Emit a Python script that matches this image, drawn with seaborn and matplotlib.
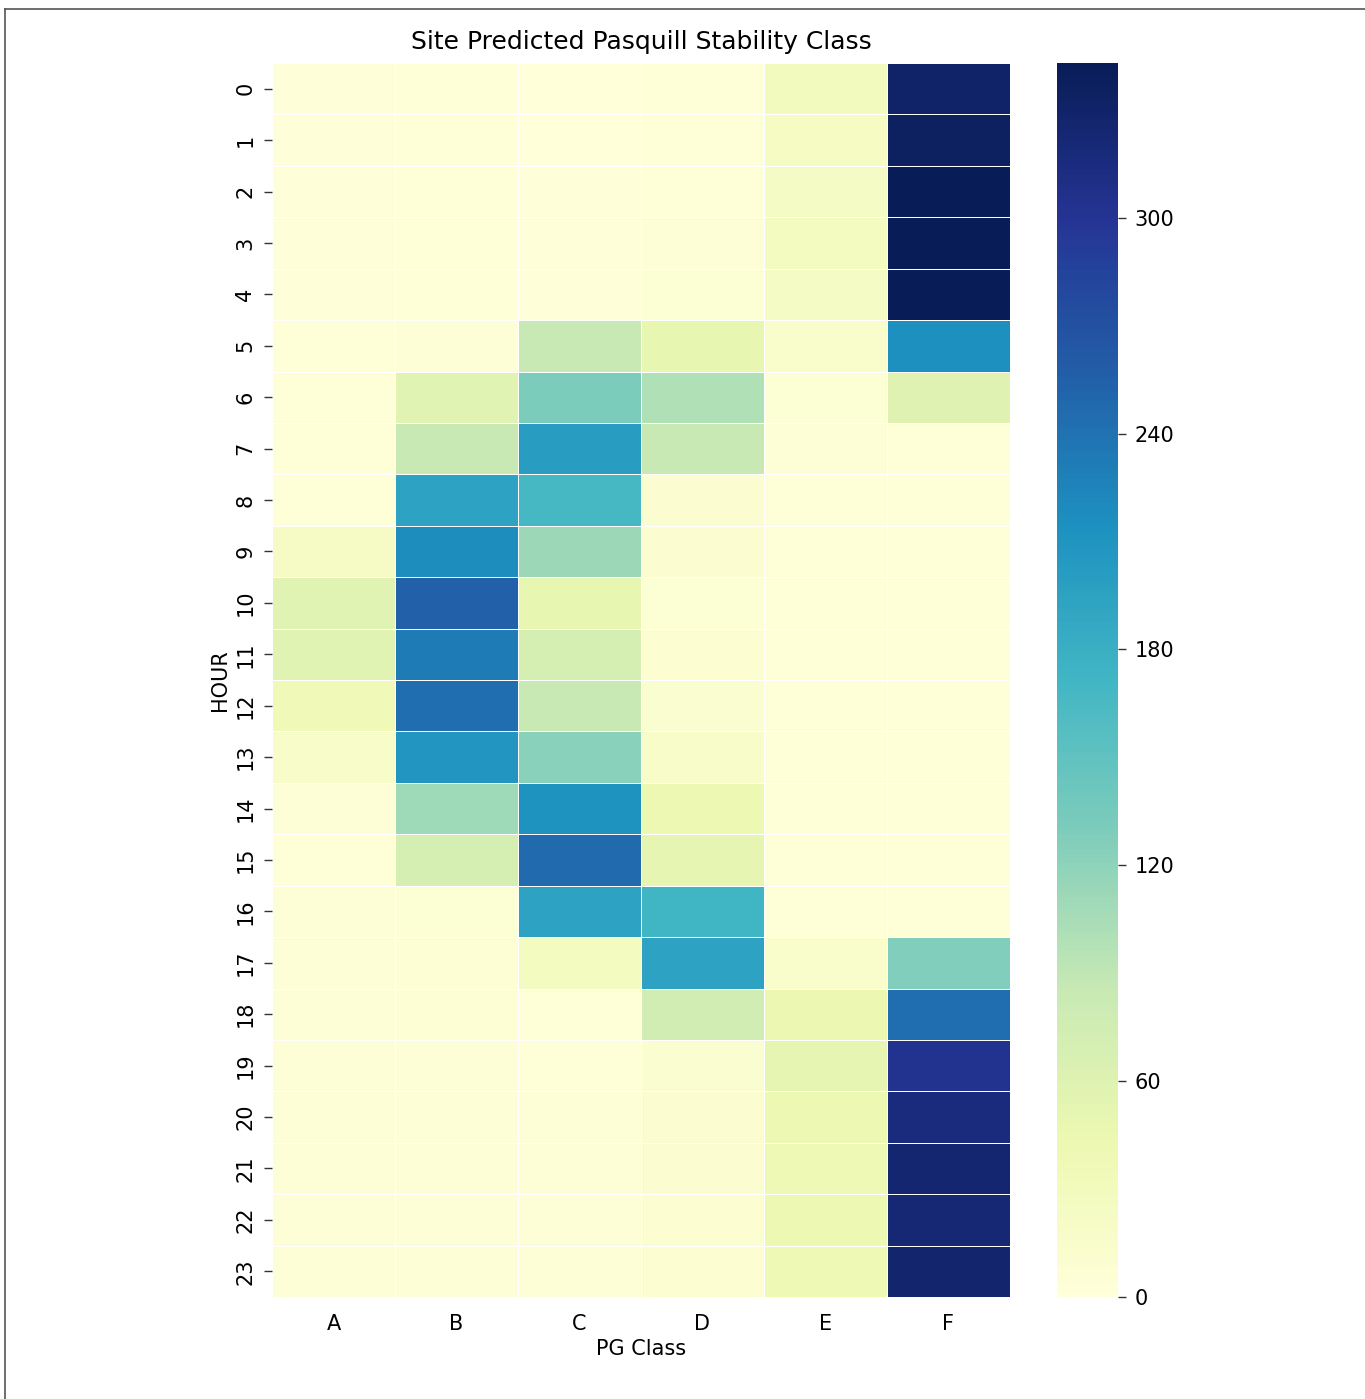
# ==== IMPORT LIBRARIES ====
import pandas as pd
import matplotlib
matplotlib.use("Agg")
import matplotlib.pyplot as plt
import seaborn as sns

# ==== DATA (counts per hour and PG class) ====
hours = list(range(24))
pg_classes = ["A", "B", "C", "D", "E", "F"]

class_a = [2, 2, 2, 2, 2, 3, 3, 3, 4, 22, 58, 58, 35, 18, 5, 4, 5, 5, 5, 5, 5, 5, 5, 5]
class_b = [3, 3, 3, 3, 3, 5, 57, 85, 195, 218, 255, 232, 243, 208, 110, 70, 7, 6, 6, 5, 5, 5, 5, 5]
class_c = [1, 1, 2, 2, 2, 85, 130, 200, 168, 112, 50, 70, 85, 122, 212, 247, 195, 28, 4, 4, 5, 5, 5, 5]
class_d = [3, 3, 4, 5, 7, 50, 100, 85, 10, 10, 8, 9, 12, 18, 42, 52, 172, 195, 75, 12, 10, 10, 9, 9]
class_e = [30, 25, 24, 26, 24, 15, 8, 5, 4, 3, 3, 3, 3, 3, 3, 3, 4, 15, 45, 52, 42, 38, 42, 38]
class_f = [330, 335, 343, 342, 343, 215, 60, 4, 3, 3, 3, 3, 3, 3, 3, 3, 4, 128, 243, 303, 315, 325, 322, 328]

df = pd.DataFrame(
    dict(zip(pg_classes, [class_a, class_b, class_c, class_d, class_e, class_f])),
    index=hours,
)
df.index.name = "HOUR"
df.columns.name = "PG Class"

# ==== HEATMAP ====
fig = plt.figure(figsize=(13.65, 13.99), dpi=100)
ax = fig.add_axes([272 / 1365, 1 - 1297 / 1399, 738 / 1365, 1234 / 1399])
cax = fig.add_axes([1057 / 1365, 1 - 1297 / 1399, 61 / 1365, 1234 / 1399])

sns.heatmap(df, cmap="YlGnBu", vmin=0, linewidths=0.6, linecolor="white",
            ax=ax, cbar_ax=cax, cbar_kws={"ticks": [0, 60, 120, 180, 240, 300]})

ax.set_title("Site Predicted Pasquill Stability Class", fontsize=18, pad=10)
ax.set_xlabel("PG Class", fontsize=15)
ax.set_ylabel("HOUR", fontsize=15)
ax.tick_params(axis="both", labelsize=15, length=6, width=1, color="#333333", pad=6)
ax.tick_params(axis="x", length=0, pad=12)
plt.setp(ax.get_yticklabels(), rotation=90, va="center")
plt.setp(ax.get_xticklabels(), rotation=0)

cax.tick_params(labelsize=15, length=6, width=1, color="#333333", pad=6)
ax.collections[0].colorbar.outline.set_visible(False)

# screenshot frame on the left and top edges
fig.add_artist(plt.Line2D([5 / 1365, 5 / 1365], [0, 1 - 9 / 1399], color="#555555", lw=1.2))
fig.add_artist(plt.Line2D([5 / 1365, 1], [1 - 9 / 1399, 1 - 9 / 1399], color="#555555", lw=1.2))

plt.savefig("out.png", dpi=100)
